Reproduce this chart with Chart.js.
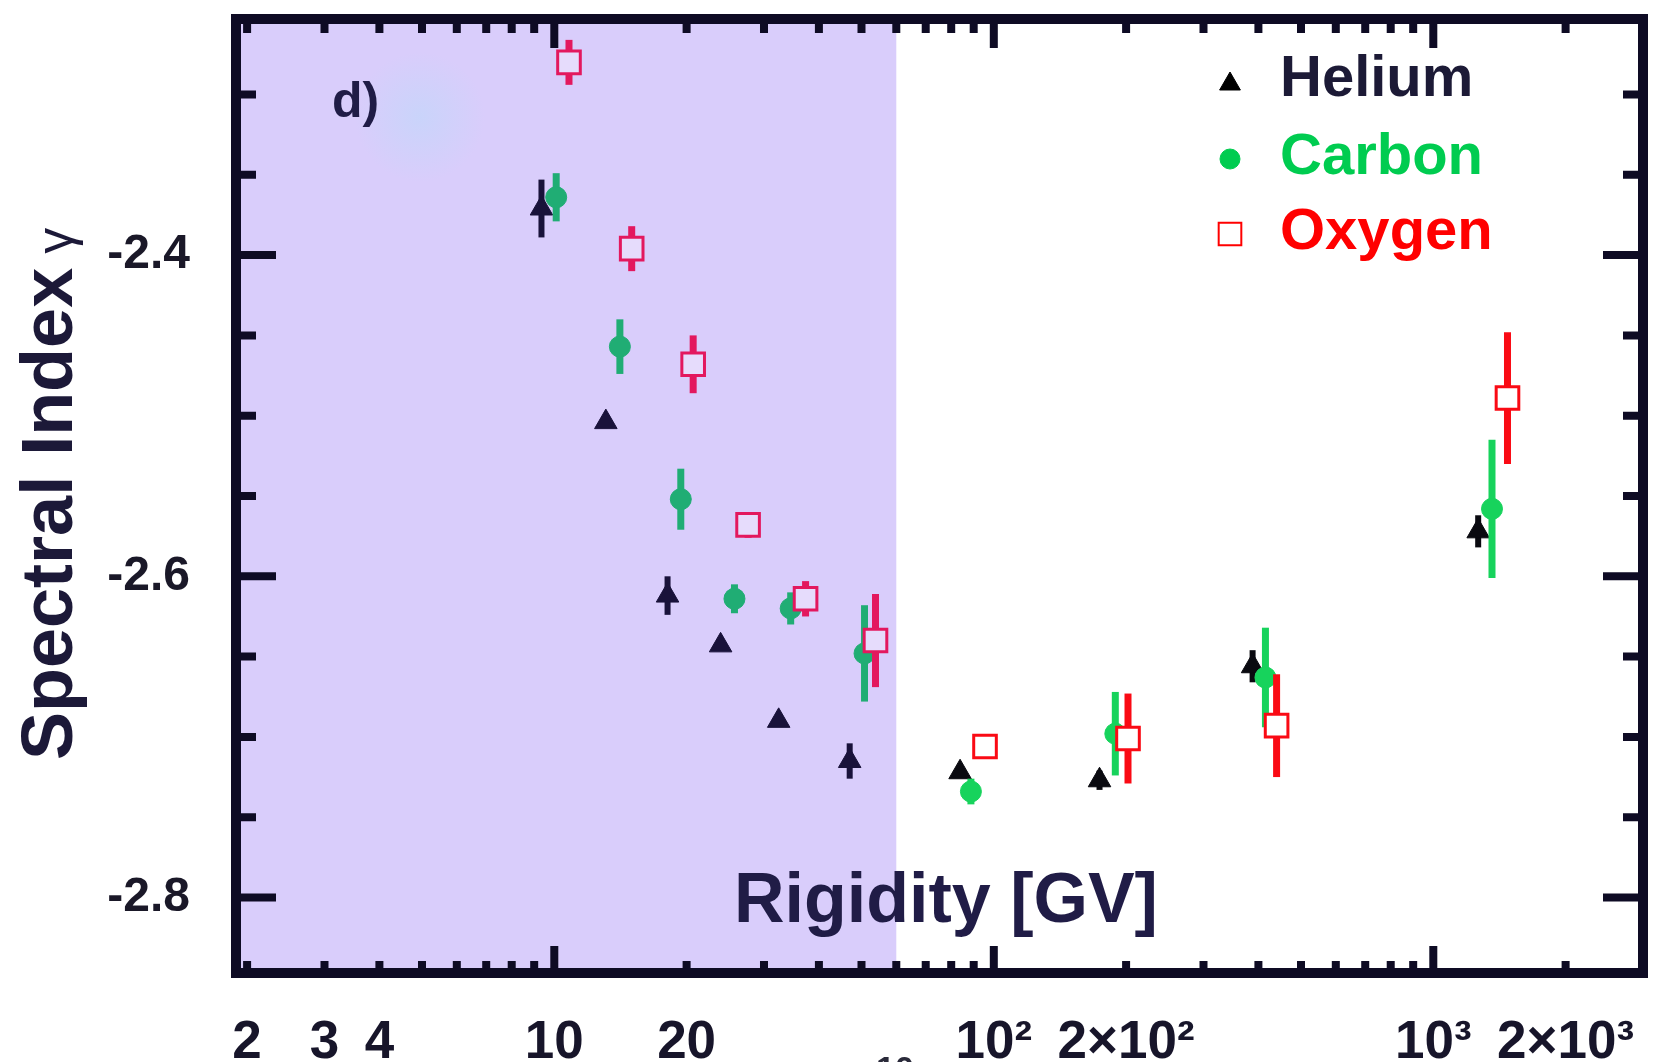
<!DOCTYPE html>
<html>
<head>
<meta charset="utf-8">
<script src="https://cdn.jsdelivr.net/npm/chart.js@4.4.1/dist/chart.umd.min.js"></script>
<style>
    html, body { margin: 0; padding: 0; background: #fff; }
    canvas { display: block; }
</style>
</head>
<body>
<canvas id="chart" width="1662" height="1062"></canvas>
<script>
// Données (rigidité en GV, indice spectral)
const heliumX = [9.35, 13.1, 18.1, 23.9, 32.4, 47.0, 83.8, 174, 388, 1265];
const heliumY = [-2.371, -2.504, -2.612, -2.643, -2.690, -2.715, -2.722, -2.727, -2.656, -2.572];
const heliumErr = [0.018, 0, 0.012, 0, 0, 0.011, 0, 0.006, 0.010, 0.010];

const carbonX = [10.1, 14.1, 19.4, 25.7, 34.5, 50.8, 88.7, 189, 415, 1360];
const carbonY = [-2.364, -2.457, -2.552, -2.614, -2.620, -2.648, -2.734, -2.698, -2.663, -2.558];
const carbonErr = [0.015, 0.017, 0.019, 0.009, 0.010, 0.030, 0.008, 0.026, 0.031, 0.043];

const oxygenX = [10.8, 15.0, 20.7, 27.6, 37.3, 53.8, 95.5, 202, 440, 1475];
const oxygenY = [-2.280, -2.396, -2.468, -2.568, -2.614, -2.640, -2.706, -2.701, -2.693, -2.489];
const oxygenErr = [0.014, 0.014, 0.018, 0.008, 0.011, 0.029, 0.007, 0.028, 0.032, 0.041];

// Graduations
const xTickValues = [2, 3, 4, 5, 6, 7, 8, 9, 10, 20, 30, 40, 50, 60, 70, 80, 90,
    100, 200, 300, 400, 500, 600, 700, 800, 900, 1000, 2000, 3000];
const xMajorValues = [10, 100, 1000];
const xLabelValues = [2, 3, 4, 10, 20, 100, 200, 1000, 2000];
const xLabelTexts = ['2', '3', '4', '10', '20', '10²', '2×10²', '10³', '2×10³'];

const yTickValues = [-2.8, -2.75, -2.7, -2.65, -2.6, -2.55, -2.5, -2.45, -2.4, -2.35, -2.3];
const yMajorValues = [-2.8, -2.6, -2.4];
const yLabelValues = [-2.8, -2.6, -2.4];
const yLabelTexts = ['-2.8', '-2.6', '-2.4'];

// Zone grisée (lavande) jusqu'à 60 GV
const SHADE_END = 60;

const FONT = "'Liberation Sans', Arial, Helvetica, sans-serif";
const INK = '#1c1938';
const FRAME = '#0e0b24';
const LAVENDER = '#d9cdfb';

function makeData(xs, ys) {
    return xs.map((x, i) => ({ x: x, y: ys[i] }));
}

function pick(inside, outside) {
    return ctx => (ctx.raw && ctx.raw.x < SHADE_END) ? inside : outside;
}

function sameValue(a, list) {
    return list.some(v => Math.abs(v - a) < 1e-6);
}

// Pas de marge automatique autour des axes : le cadre est fixé à la main
function noPadding(scale) {
    scale.paddingTop = 0;
    scale.paddingBottom = 0;
    scale.paddingLeft = 0;
    scale.paddingRight = 0;
}

// Fond lavande
const shadePlugin = {
    id: 'shade',
    beforeDatasetsDraw(chart) {
        const { ctx, chartArea: a } = chart;
        const xe = chart.scales.x.getPixelForValue(SHADE_END);
        ctx.save();
        ctx.fillStyle = LAVENDER;
        ctx.fillRect(a.left, a.top, xe - a.left, a.bottom - a.top);
        // petite tache bleutée à côté du "d)"
        const g = ctx.createRadialGradient(420, 117, 0, 420, 117, 65);
        g.addColorStop(0, 'rgba(196, 214, 250, 0.75)');
        g.addColorStop(1, 'rgba(196, 214, 250, 0)');
        ctx.fillStyle = g;
        ctx.fillRect(350, 50, 140, 140);
        ctx.restore();
    }
};

// Barres d'erreur, dessinées sous les marqueurs
const errorBarPlugin = {
    id: 'errorBars',
    beforeDatasetDraw(chart, args) {
        const ds = chart.data.datasets[args.index];
        if (!ds.errors) return;
        const ctx = chart.ctx;
        const ys = chart.scales.y;
        ctx.save();
        ctx.lineWidth = ds.errWidth;
        ctx.lineCap = 'butt';
        args.meta.data.forEach((pt, i) => {
            const e = ds.errors[i];
            if (!e) return;
            const v = ds.data[i];
            ctx.strokeStyle = v.x < SHADE_END ? ds.colorIn : ds.colorOut;
            ctx.beginPath();
            ctx.moveTo(pt.x, ys.getPixelForValue(v.y + e));
            ctx.lineTo(pt.x, ys.getPixelForValue(v.y - e));
            ctx.stroke();
        });
        ctx.restore();
    }
};

// Cadre épais et graduations vers l'intérieur
const framePlugin = {
    id: 'frame',
    afterDatasetsDraw(chart) {
        const { ctx, chartArea: a } = chart;
        const xs = chart.scales.x, ys = chart.scales.y;
        ctx.save();
        ctx.strokeStyle = FRAME;
        ctx.lineCap = 'butt';
        ctx.lineWidth = 8;
        ctx.beginPath();
        xs.ticks.forEach(t => {
            const px = xs.getPixelForValue(t.value);
            const major = sameValue(t.value, xMajorValues);
            ctx.moveTo(px, a.bottom);
            ctx.lineTo(px, a.bottom - (major ? 27 : 12));
            ctx.moveTo(px, a.top);
            ctx.lineTo(px, a.top + (major ? 29 : 14));
        });
        ys.ticks.forEach(t => {
            const py = ys.getPixelForValue(t.value);
            const len = sameValue(t.value, yMajorValues) ? 40 : 20;
            ctx.moveTo(a.left, py);
            ctx.lineTo(a.left + len, py);
            ctx.moveTo(a.right, py);
            ctx.lineTo(a.right - len, py);
        });
        ctx.stroke();
        ctx.lineWidth = 10;
        ctx.strokeRect(a.left, a.top, a.right - a.left, a.bottom - a.top);
        ctx.restore();
    }
};

function marker(ctx, style, radius, border, x, y) {
    if (Chart.helpers && Chart.helpers.drawPoint) {
        Chart.helpers.drawPoint(ctx, { pointStyle: style, radius: radius, rotation: 0, borderWidth: border }, x, y);
    }
}

// Titres, légende et étiquette "d)"
const textPlugin = {
    id: 'texts',
    afterDraw(chart) {
        const ctx = chart.ctx;
        ctx.save();

        // Axe Y
        ctx.save();
        ctx.translate(72, 760);
        ctx.rotate(-Math.PI / 2);
        ctx.fillStyle = INK;
        ctx.textAlign = 'left';
        ctx.textBaseline = 'alphabetic';
        ctx.font = 'bold 72px ' + FONT;
        ctx.fillText('Spectral Index', 0, 0);
        const w = ctx.measureText('Spectral Index ').width;
        ctx.font = '52px ' + FONT;
        ctx.fillText('γ', w - 6, 0);
        ctx.restore();

        // Axe X (dans le cadre)
        ctx.fillStyle = '#201c46';
        ctx.textAlign = 'center';
        ctx.textBaseline = 'alphabetic';
        ctx.font = 'bold 70px ' + FONT;
        ctx.fillText('Rigidity [GV]', 946, 922);

        // d)
        ctx.textAlign = 'left';
        ctx.font = 'bold 50px ' + FONT;
        ctx.fillText('d)', 332, 117);

        // fragment coupé en bas
        ctx.textAlign = 'center';
        ctx.font = 'bold 34px ' + FONT;
        ctx.fillStyle = '#2a2a3a';
        ctx.fillText('10', 895, 1080);

        // Légende
        const rows = [
            { y: 81, style: 'triangle', r: 12, fill: '#000000', stroke: '#000000', bw: 1, text: '#1c1a36' },
            { y: 159, style: 'circle', r: 10, fill: '#00cc50', stroke: '#00cc50', bw: 1, text: '#00cc50' },
            { y: 234, style: 'rect', r: 16, fill: '#ffffff', stroke: '#ff0000', bw: 2, text: '#ff0000' }
        ];
        ctx.font = 'bold 58px ' + FONT;
        ctx.textAlign = 'left';
        ctx.textBaseline = 'middle';
        chart.data.datasets.forEach((ds, i) => {
            const row = rows[i];
            ctx.fillStyle = row.fill;
            ctx.strokeStyle = row.stroke;
            ctx.lineWidth = row.bw;
            marker(ctx, row.style, row.r, row.bw, 1230, row.y + (row.style === 'triangle' ? 3 : 0));
            ctx.fillStyle = row.text;
            ctx.fillText(ds.label, 1280, row.y - 1);
        });

        ctx.restore();
    }
};

const chart = new Chart(document.getElementById('chart'), {
    type: 'scatter',
    data: {
        datasets: [{
            label: 'Helium',
            data: makeData(heliumX, heliumY),
            errors: heliumErr,
            errWidth: 6,
            colorIn: '#19123a',
            colorOut: '#0a0a10',
            pointStyle: 'triangle',
            pointRadius: 13,
            pointHoverRadius: 13,
            pointBorderWidth: 1,
            pointBackgroundColor: pick('#19123a', '#0a0a10'),
            pointBorderColor: pick('#19123a', '#0a0a10'),
            order: 3
        }, {
            label: 'Carbon',
            data: makeData(carbonX, carbonY),
            errors: carbonErr,
            errWidth: 7,
            colorIn: '#20ad74',
            colorOut: '#17d35c',
            pointStyle: 'circle',
            pointRadius: 10.5,
            pointHoverRadius: 10.5,
            pointBorderWidth: 1,
            pointBackgroundColor: pick('#20ad74', '#17d35c'),
            pointBorderColor: pick('#20ad74', '#17d35c'),
            order: 2
        }, {
            label: 'Oxygen',
            data: makeData(oxygenX, oxygenY),
            errors: oxygenErr,
            errWidth: 7,
            colorIn: '#e3185e',
            colorOut: '#fa0a14',
            pointStyle: 'rect',
            pointRadius: 16,
            pointHoverRadius: 16,
            pointBorderWidth: 3,
            pointBackgroundColor: pick('#e6dcfc', '#ffffff'),
            pointBorderColor: pick('#e3185e', '#fa0a14'),
            order: 1
        }]
    },
    options: {
        responsive: false,
        animation: false,
        devicePixelRatio: 1,
        layout: { padding: { top: 16, right: 11, left: 0, bottom: 0 } },
        plugins: {
            legend: { display: false },
            tooltip: { enabled: false }
        },
        scales: {
            x: {
                type: 'logarithmic',
                position: 'bottom',
                min: 1.887,
                max: 3000,
                bounds: 'data',
                grid: { display: false },
                border: { display: false },
                ticks: {
                    autoSkip: false,
                    maxRotation: 0,
                    minRotation: 0,
                    padding: 31,
                    color: '#17152a',
                    font: { family: FONT, size: 53, weight: 'bold' },
                    callback: value => {
                        const k = xLabelValues.findIndex(v => Math.abs(v - value) < 1e-6);
                        return k >= 0 ? xLabelTexts[k] : '';
                    }
                },
                afterBuildTicks: scale => {
                    scale.ticks = xTickValues.map(v => ({ value: v }));
                },
                afterFit: scale => {
                    scale.height = 89;
                    noPadding(scale);
                }
            },
            y: {
                min: -2.847,
                max: -2.253,
                bounds: 'data',
                grid: { display: false },
                border: { display: false },
                ticks: {
                    autoSkip: false,
                    padding: 38,
                    color: '#1a1828',
                    font: { family: FONT, size: 48, weight: 'bold' },
                    callback: value => {
                        const k = yLabelValues.findIndex(v => Math.abs(v - value) < 1e-6);
                        return k >= 0 ? yLabelTexts[k] : '';
                    }
                },
                afterBuildTicks: scale => {
                    scale.ticks = yTickValues.map(v => ({ value: v }));
                },
                afterFit: scale => {
                    scale.width = 236;
                    noPadding(scale);
                }
            }
        }
    },
    plugins: [shadePlugin, errorBarPlugin, framePlugin, textPlugin]
});
</script>
</body>
</html>
